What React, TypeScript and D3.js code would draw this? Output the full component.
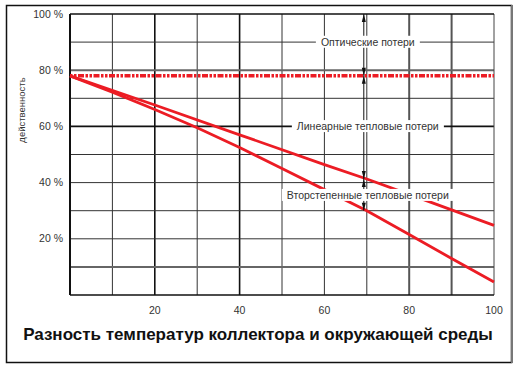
import React, { useEffect, useRef } from "react";
import * as d3 from "d3";

// temperature difference (x) and efficiency in % (y)
const optical: [number, number][] = [
  [0, 78],
  [100, 78],
];
const linearLoss: [number, number][] = [
  [0, 78],
  [20, 67.6],
  [40, 57],
  [60, 46.4],
  [70, 41.3],
  [80, 35.8],
  [100, 24.8],
];
const totalLoss: [number, number][] = [
  [0, 78],
  [10, 72.2],
  [20, 66],
  [30, 59.5],
  [40, 52.5],
  [50, 45],
  [60, 37.5],
  [70, 30],
  [80, 21.5],
  [90, 13],
  [100, 4.6],
];
const xTicks = [20, 40, 60, 80, 100];
const yTicks = [20, 40, 60, 80, 100];
const xGrid = [10, 20, 30, 40, 50, 60, 70, 80, 90];
const yGrid = [10, 20, 30, 40, 50, 60, 70, 80, 90];
const labels = ["Оптические потери", "Линеарные тепловые потери", "Вторстепенные тепловые потери"];
const labelY = [90, 60, 35.5];
const arrowX = 70;

const App = () => {
  const svgRef = useRef<SVGSVGElement>(null);

  useEffect(() => {
    const width = 522;
    const height = 366;
    const svg = d3.select(svgRef.current).attr("width", width).attr("height", height);
    svg.selectAll("*").remove();

    const x = d3.scaleLinear().domain([0, 100]).range([70, 494]);
    const y = d3.scaleLinear().domain([0, 100]).range([295, 14]);
    const font = "'Liberation Sans', Arial, sans-serif";
    const red = "#ec1c24";

    // outer frame
    svg.append("rect").attr("x", 6.5).attr("y", 5.5).attr("width", 505).attr("height", 357)
      .attr("fill", "#fff").attr("stroke", "#111").attr("stroke-width", 1.5);
    svg.append("line").attr("x1", 512).attr("x2", 512).attr("y1", 5).attr("y2", 363)
      .attr("stroke", "#777").attr("stroke-width", 2);

    // grid
    const heavyX = (d: number) => (d === 20 || d === 40 ? ["#111", 1.6] : d >= 80 ? ["#555", 2] : ["#333", 1]);
    const heavyY = (d: number) => (d === 60 ? ["#111", 1.6] : d === 80 || d === 10 ? ["#666", 2] : ["#333", 1]);
    svg.append("g").selectAll("line").data(xGrid).enter().append("line")
      .attr("x1", (d) => x(d)).attr("x2", (d) => x(d)).attr("y1", y(100)).attr("y2", y(0))
      .attr("stroke", (d) => heavyX(d)[0] as string).attr("stroke-width", (d) => heavyX(d)[1] as number);
    svg.append("g").selectAll("line").data(yGrid).enter().append("line")
      .attr("x1", x(0)).attr("x2", x(100)).attr("y1", (d) => y(d)).attr("y2", (d) => y(d))
      .attr("stroke", (d) => heavyY(d)[0] as string).attr("stroke-width", (d) => heavyY(d)[1] as number);
    // plot frame
    svg.append("line").attr("x1", x(100)).attr("x2", x(100)).attr("y1", y(100)).attr("y2", y(0)).attr("stroke", "#444").attr("stroke-width", 1);
    svg.append("line").attr("x1", x(0)).attr("x2", x(100)).attr("y1", y(100)).attr("y2", y(100)).attr("stroke", "#111").attr("stroke-width", 1.5);
    svg.append("line").attr("x1", x(0)).attr("x2", x(100)).attr("y1", y(0)).attr("y2", y(0)).attr("stroke", "#111").attr("stroke-width", 1.5);
    svg.append("line").attr("x1", x(0)).attr("x2", x(0)).attr("y1", y(100)).attr("y2", y(0)).attr("stroke", "#111").attr("stroke-width", 2);

    // series
    const line = d3.line<[number, number]>().x((d) => x(d[0])).y((d) => y(d[1]));
    svg.append("path").attr("d", line(linearLoss)).attr("fill", "none").attr("stroke", red).attr("stroke-width", 2.8);
    svg.append("path").attr("d", line(totalLoss)).attr("fill", "none").attr("stroke", red).attr("stroke-width", 2.8);
    svg.append("path").attr("d", line(optical)).attr("fill", "none").attr("stroke", red).attr("stroke-width", 3.5)
      .attr("stroke-dasharray", "2.5 1.5 2.5 1.5 6 1.5");

    // arrows
    const ax = x(arrowX) - 3;
    const upAt70 = linearLoss.find((d) => d[0] === arrowX)![1];
    const lowAt70 = totalLoss.find((d) => d[0] === arrowX)![1];
    const spans: [number, number][] = [
      [100, optical[0][1]],
      [optical[0][1], upAt70],
      [upAt70, lowAt70],
    ];
    const arrows = svg.append("g");
    spans.forEach(([a, b]) => {
      const y1 = y(a);
      const y2 = y(b);
      arrows.append("line").attr("x1", ax).attr("x2", ax).attr("y1", y1).attr("y2", y2).attr("stroke", "#111").attr("stroke-width", 1);
      arrows.append("path").attr("d", `M${ax},${y1} L${ax - 2},${y1 + 8} L${ax + 2},${y1 + 8}Z`).attr("fill", "#111");
      arrows.append("path").attr("d", `M${ax},${y2} L${ax - 2},${y2 - 8} L${ax + 2},${y2 - 8}Z`).attr("fill", "#111");
    });

    // annotation labels with white boxes
    labels.forEach((t, i) => {
      const g = svg.append("g");
      const txt = g.append("text").attr("x", ax + 4).attr("y", y(labelY[i])).attr("dy", "0.35em")
        .attr("text-anchor", "middle").attr("font-family", font).attr("font-size", 10.5).attr("fill", "#333").text(t);
      const bb = (txt.node() as SVGTextElement).getBBox();
      g.insert("rect", "text").attr("x", bb.x - 5).attr("y", bb.y).attr("width", bb.width + 10).attr("height", bb.height)
        .attr("fill", "#fff");
    });

    // tick labels
    svg.append("g").selectAll("text").data(yTicks).enter().append("text")
      .attr("x", 63).attr("y", (d) => y(d)).attr("dy", "0.35em").attr("text-anchor", "end")
      .attr("font-family", font).attr("font-size", 10.5).attr("fill", "#333").text((d) => `${d} %`);
    svg.append("g").selectAll("text").data(xTicks).enter().append("text")
      .attr("x", (d) => x(d)).attr("y", 314).attr("text-anchor", "middle")
      .attr("font-family", font).attr("font-size", 10.5).attr("fill", "#333").text((d) => d);

    // axis titles
    svg.append("text").attr("transform", "translate(25,110) rotate(-90)").attr("text-anchor", "middle")
      .attr("font-family", font).attr("font-size", 9.5).attr("fill", "#333").text("действенность");
    svg.append("text").attr("x", 258).attr("y", 340).attr("text-anchor", "middle")
      .attr("font-family", font).attr("font-size", 17).attr("font-weight", "bold").attr("fill", "#111")
      .text("Разность температур коллектора и окружающей среды");
  }, []);

  return <svg ref={svgRef} style={{ position: "absolute", left: 0, top: 0 }}></svg>;
};

export default App;
